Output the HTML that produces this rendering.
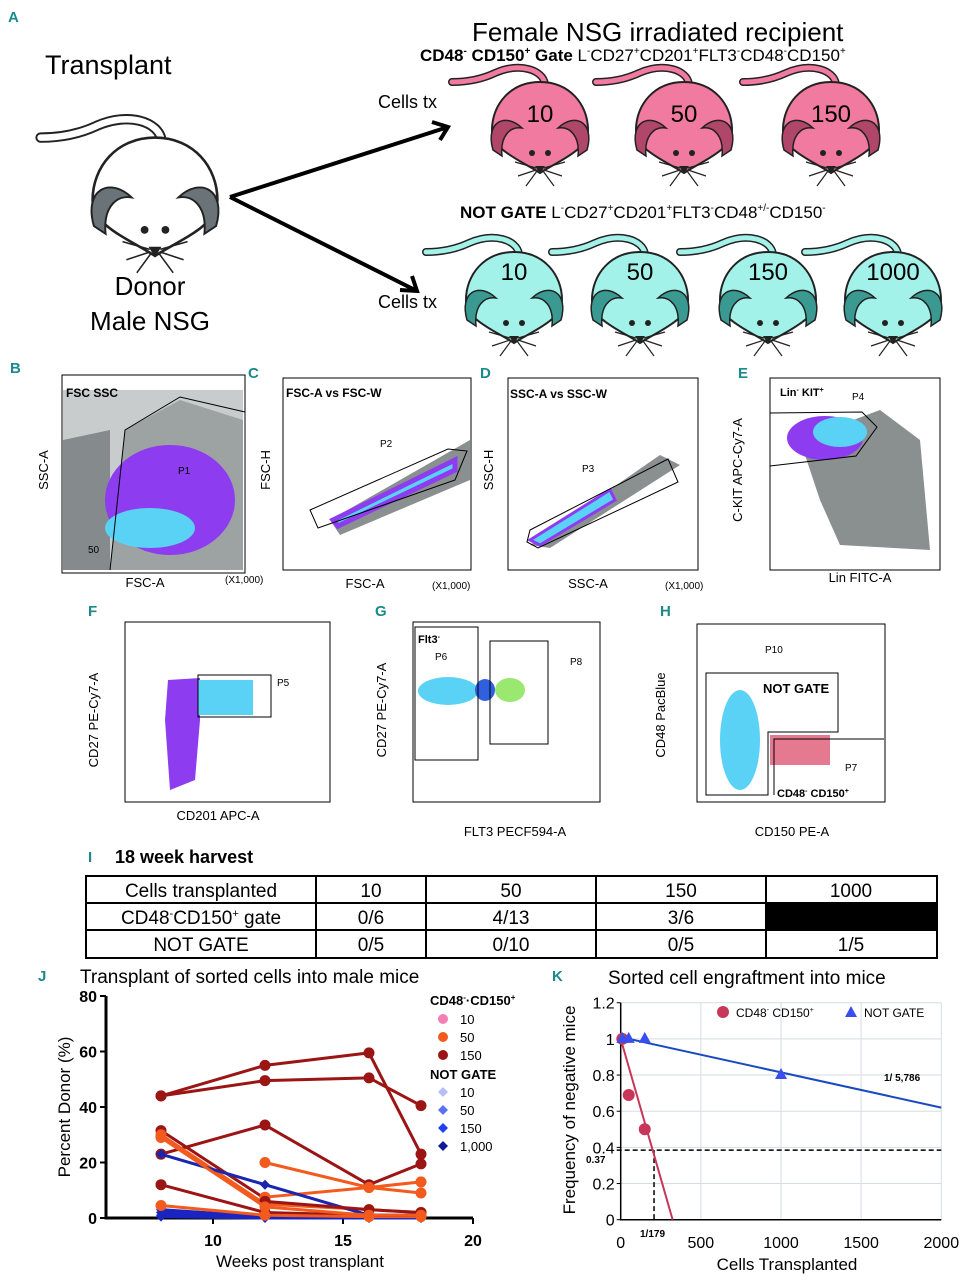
<!DOCTYPE html>
<html><head><meta charset="utf-8"><style>
body{margin:0;background:#fff;width:969px;height:1280px;overflow:hidden}
svg{display:block;font-family:"Liberation Sans",sans-serif}
.lab{fill:#1a8a8a;font-weight:bold;font-size:15px}
.tk{font-size:10px}
</style></head><body>
<svg width="969" height="1280" viewBox="0 0 969 1280">
<defs>
<g id="mouse">
<path d="M5,-16 C3,-30 -20,-38 -45,-27 C-60,-20 -75,-18 -88,-18" fill="none" stroke="#222" stroke-width="8" stroke-linecap="round"/>
<path d="M5,-16 C3,-30 -20,-38 -45,-27 C-60,-20 -75,-18 -88,-18" fill="none" stroke="var(--c)" stroke-width="5" stroke-linecap="round"/>
<path d="M0,-18 C30,-18 48,5 48,30 C48,50 20,60 0,73 C-20,60 -48,50 -48,30 C-48,5 -30,-18 0,-18Z" fill="var(--c)" stroke="#222" stroke-width="2"/>
<path d="M-47,50 C-55,22 -35,12 -18,28 C-30,26 -40,36 -38,56Z" fill="var(--d)" stroke="#222" stroke-width="1.5"/>
<path d="M47,50 C55,22 35,12 18,28 C30,26 40,36 38,56Z" fill="var(--d)" stroke="#222" stroke-width="1.5"/>
<circle cx="-8" cy="53" r="3" fill="#222"/><circle cx="8" cy="53" r="3" fill="#222"/>
<path d="M-5,66 L5,66 L0,74Z" fill="#222"/>
<path d="M-4,68 L-25,62 M-4,70 L-22,76 M-3,71 L-14,86 M4,68 L25,62 M4,70 L22,76 M3,71 L14,86" stroke="#222" stroke-width="1.2" fill="none"/>
</g>
</defs>

<text x="8" y="22" class="lab">A</text>
<text x="45" y="74" font-size="27">Transplant</text>
<text x="472" y="41" font-size="26">Female NSG irradiated recipient</text>
<text x="420" y="61" font-size="17"><tspan font-weight="bold">CD48<tspan font-size="10" dy="-7">-</tspan><tspan dy="7"> CD150</tspan><tspan font-size="10" dy="-7">+</tspan><tspan dy="7"> Gate</tspan></tspan> L<tspan font-size="10" dy="-7">-</tspan><tspan dy="7">CD27</tspan><tspan font-size="10" dy="-7">+</tspan><tspan dy="7">CD201</tspan><tspan font-size="10" dy="-7">+</tspan><tspan dy="7">FLT3</tspan><tspan font-size="10" dy="-7">-</tspan><tspan dy="7">CD48</tspan><tspan font-size="10" dy="-7">-</tspan><tspan dy="7">CD150</tspan><tspan font-size="10" dy="-7">+</tspan></text>
<text x="460" y="218" font-size="17"><tspan font-weight="bold">NOT GATE</tspan> L<tspan font-size="10" dy="-7">-</tspan><tspan dy="7">CD27</tspan><tspan font-size="10" dy="-7">+</tspan><tspan dy="7">CD201</tspan><tspan font-size="10" dy="-7">+</tspan><tspan dy="7">FLT3</tspan><tspan font-size="10" dy="-7">-</tspan><tspan dy="7">CD48</tspan><tspan font-size="10" dy="-7">+/-</tspan><tspan dy="7">CD150</tspan><tspan font-size="10" dy="-7">-</tspan></text>
<text x="378" y="108" font-size="18">Cells tx</text>
<text x="378" y="308" font-size="18">Cells tx</text>

<g transform="translate(155,161) scale(1.3)">
<use href="#mouse" style="--c:#fff;--d:#6a7478"/>
</g>
<text x="150" y="295" font-size="26" text-anchor="middle">Donor</text>
<text x="150" y="330" font-size="26" text-anchor="middle">Male NSG</text>
<path d="M230,197 L445,128 M230,197 L415,290" stroke="#000" stroke-width="4" fill="none"/>
<path d="M432,122 L448,127 L440,140 M400,290 L417,291 L412,276" stroke="#000" stroke-width="4" fill="none"/>

<g>
<use href="#mouse" x="540" y="100" style="--c:#f07aa0;--d:#b0466a"/>
<use href="#mouse" x="684" y="100" style="--c:#f07aa0;--d:#b0466a"/>
<use href="#mouse" x="831" y="100" style="--c:#f07aa0;--d:#b0466a"/>
<text x="540" y="122" font-size="24" text-anchor="middle">10</text>
<text x="684" y="122" font-size="24" text-anchor="middle">50</text>
<text x="831" y="122" font-size="24" text-anchor="middle">150</text>
</g>
<g>
<use href="#mouse" x="514" y="270" style="--c:#a3f2ea;--d:#3a9a92"/>
<use href="#mouse" x="640" y="270" style="--c:#a3f2ea;--d:#3a9a92"/>
<use href="#mouse" x="768" y="270" style="--c:#a3f2ea;--d:#3a9a92"/>
<use href="#mouse" x="893" y="270" style="--c:#a3f2ea;--d:#3a9a92"/>
<text x="514" y="280" font-size="24" text-anchor="middle">10</text>
<text x="640" y="280" font-size="24" text-anchor="middle">50</text>
<text x="768" y="280" font-size="24" text-anchor="middle">150</text>
<text x="893" y="280" font-size="24" text-anchor="middle">1000</text>
</g>

<!-- flow panels -->
<g>
<text x="10" y="373" class="lab">B</text>
<rect x="62" y="375" width="183" height="198" fill="#fff" stroke="#000"/>
<rect x="63" y="390" width="180" height="180" fill="#c8cccc"/>
<path d="M63,440 L110,430 L110,570 L63,570Z" fill="#858b8c"/>
<path d="M125,430 L180,400 L243,420 L243,570 L110,570Z" fill="#9da2a3"/>
<ellipse cx="170" cy="500" rx="65" ry="55" fill="#8d3cf0"/>
<ellipse cx="150" cy="528" rx="45" ry="20" fill="#5ad2f5"/>
<path d="M110,570 L125,430 L180,397 L245,412" fill="none" stroke="#000"/>
<text x="66" y="397" font-size="12" font-weight="bold">FSC SSC</text><text x="178" y="474" font-size="10">P1</text>
<text x="48" y="470" font-size="13" transform="rotate(-90 48 470)" text-anchor="middle">SSC-A</text>
<text x="145" y="587" font-size="13" text-anchor="middle">FSC-A</text>
<text x="225" y="583" class="tk">(X1,000)</text>
<text x="88" y="553" class="tk">50</text>
</g>
<g>
<text x="248" y="378" class="lab">C</text>
<rect x="283" y="378" width="188" height="192" fill="#fff" stroke="#000"/>
<path d="M330,520 L470,440 L470,480 L340,535Z" fill="#8a8f90"/>
<path d="M333,520 L455,460 L455,470 L338,526Z" fill="#5ad2f5" stroke="#8d3cf0" stroke-width="5"/>
<path d="M310,510 L448,449 L467,451 L455,480 L318,528Z" fill="none" stroke="#000"/>
<text x="286" y="397" font-size="12" font-weight="bold">FSC-A vs FSC-W</text><text x="380" y="447" font-size="10">P2</text>
<text x="270" y="470" font-size="13" transform="rotate(-90 270 470)" text-anchor="middle">FSC-H</text>
<text x="365" y="588" font-size="13" text-anchor="middle">FSC-A</text><text x="432" y="589" class="tk">(X1,000)</text>
</g>
<g>
<text x="480" y="378" class="lab">D</text>
<rect x="508" y="378" width="190" height="192" fill="#fff" stroke="#000"/>
<path d="M530,545 L660,455 L680,465 L550,548Z" fill="#8a8f90"/>
<path d="M530,540 L610,490 L615,500 L540,545Z" fill="#5ad2f5" stroke="#8d3cf0" stroke-width="3"/>
<path d="M527,542 L530,530 L668,459 L678,482 L538,548Z" fill="none" stroke="#000"/>
<text x="510" y="398" font-size="12" font-weight="bold">SSC-A vs SSC-W</text><text x="582" y="472" font-size="10">P3</text>
<text x="493" y="470" font-size="13" transform="rotate(-90 493 470)" text-anchor="middle">SSC-H</text>
<text x="588" y="588" font-size="13" text-anchor="middle">SSC-A</text><text x="665" y="589" class="tk">(X1,000)</text>
</g>
<g>
<text x="738" y="378" class="lab">E</text>
<rect x="770" y="378" width="170" height="192" fill="#fff" stroke="#000"/>
<path d="M800,440 L880,410 L920,440 L930,550 L840,545 L820,500Z" fill="#8a8f90"/>
<ellipse cx="825" cy="438" rx="38" ry="22" fill="#8d3cf0"/>
<ellipse cx="840" cy="432" rx="27" ry="15" fill="#5ad2f5"/>
<path d="M770,413 L862,412 L877,427 L856,456 L770,466" fill="none" stroke="#000"/>
<text x="780" y="396" font-size="11" font-weight="bold">Lin<tspan font-size="7" dy="-4">-</tspan><tspan dy="4"> KIT</tspan><tspan font-size="7" dy="-4">+</tspan></text><text x="852" y="400" font-size="10">P4</text>
<text x="742" y="470" font-size="13" transform="rotate(-90 742 470)" text-anchor="middle">C-KIT APC-Cy7-A</text>
<text x="860" y="582" font-size="13" text-anchor="middle">Lin FITC-A</text>
</g>
<g>
<text x="88" y="616" class="lab">F</text>
<rect x="125" y="622" width="205" height="180" fill="#fff" stroke="#000"/>
<path d="M168,680 L200,678 L200,720 L195,780 L170,790 L165,720Z" fill="#8d3cf0"/>
<rect x="198" y="680" width="55" height="35" fill="#5ad2f5"/>
<rect x="198" y="675" width="73" height="42" fill="none" stroke="#000"/>
<text x="277" y="686" font-size="10">P5</text>
<text x="98" y="720" font-size="13" transform="rotate(-90 98 720)" text-anchor="middle">CD27 PE-Cy7-A</text>
<text x="218" y="820" font-size="13" text-anchor="middle">CD201 APC-A</text>
</g>
<g>
<text x="375" y="616" class="lab">G</text>
<rect x="413" y="622" width="187" height="180" fill="#fff" stroke="#000"/>
<ellipse cx="448" cy="691" rx="30" ry="14" fill="#5ad2f5"/>
<ellipse cx="485" cy="690" rx="10" ry="11" fill="#3060e0"/>
<ellipse cx="510" cy="690" rx="15" ry="12" fill="#9ae870"/>
<rect x="415" y="627" width="63" height="133" fill="none" stroke="#000"/>
<rect x="490" y="641" width="58" height="103" fill="none" stroke="#000"/>
<text x="418" y="643" font-size="11" font-weight="bold">Flt3<tspan font-size="7" dy="-4">-</tspan></text>
<text x="435" y="660" font-size="10">P6</text><text x="570" y="665" font-size="10">P8</text>
<text x="386" y="710" font-size="13" transform="rotate(-90 386 710)" text-anchor="middle">CD27 PE-Cy7-A</text>
<text x="515" y="836" font-size="13" text-anchor="middle">FLT3 PECF594-A</text>
</g>
<g>
<text x="660" y="616" class="lab">H</text>
<rect x="697" y="624" width="188" height="178" fill="#fff" stroke="#000"/>
<ellipse cx="740" cy="740" rx="20" ry="50" fill="#5ad2f5"/>
<rect x="770" y="735" width="60" height="30" fill="#d84060" opacity="0.7"/>
<path d="M706,673 L838,673 L838,732 L768,732 L768,795 L706,795Z" fill="none" stroke="#000"/>
<path d="M774,795 L774,739 L884,739" fill="none" stroke="#000"/>
<text x="765" y="653" font-size="10">P10</text><text x="845" y="771" font-size="10">P7</text>
<text x="763" y="693" font-size="13" font-weight="bold">NOT GATE</text>
<text x="777" y="797" font-size="11" font-weight="bold">CD48<tspan font-size="7" dy="-4">-</tspan><tspan dy="4"> CD150</tspan><tspan font-size="7" dy="-4">+</tspan></text>
<text x="665" y="715" font-size="13" transform="rotate(-90 665 715)" text-anchor="middle">CD48 PacBlue</text>
<text x="792" y="836" font-size="13" text-anchor="middle">CD150 PE-A</text>
</g>

<!-- table -->
<g>
<text x="88" y="862" class="lab">I</text>
<text x="115" y="863" font-size="18" font-weight="bold">18 week harvest</text>
<rect x="86" y="876" width="851" height="82" fill="#fff" stroke="#000" stroke-width="2"/>
<rect x="766" y="903" width="171" height="27" fill="#000"/>
<path d="M86,903 H937 M86,930 H937 M316,876 V958 M426,876 V958 M596,876 V958 M766,876 V958" stroke="#000" stroke-width="2"/>
<g font-size="19" text-anchor="middle">
<text x="201" y="897">Cells transplanted</text><text x="371" y="897">10</text><text x="511" y="897">50</text><text x="681" y="897">150</text><text x="851" y="897">1000</text>
<text x="201" y="924">CD48<tspan font-size="11" dy="-7">-</tspan><tspan dy="7">CD150</tspan><tspan font-size="11" dy="-7">+</tspan><tspan dy="7"> gate</tspan></text><text x="371" y="924">0/6</text><text x="511" y="924">4/13</text><text x="681" y="924">3/6</text>
<text x="201" y="951">NOT GATE</text><text x="371" y="951">0/5</text><text x="511" y="951">0/10</text><text x="681" y="951">0/5</text><text x="851" y="951">1/5</text>
</g>
</g>

<!-- J -->
<g id="pj">
<text x="38" y="981" class="lab">J</text>
<text x="80" y="983" font-size="19">Transplant of sorted cells into male mice</text>
<text x="70" y="1107" font-size="17" transform="rotate(-90 70 1107)" text-anchor="middle">Percent Donor (%)</text>
<text x="300" y="1267" font-size="17" text-anchor="middle">Weeks post transplant</text>
<g font-size="13" font-weight="bold">
<text x="430" y="1005">CD48<tspan font-size="8" dy="-5">-</tspan><tspan dy="5">·CD150</tspan><tspan font-size="8" dy="-5">+</tspan></text>
<circle cx="443" cy="1019" r="5" fill="#f37fb5"/><text x="460" y="1024" font-weight="normal">10</text>
<circle cx="443" cy="1037" r="5" fill="#f25a1e"/><text x="460" y="1042" font-weight="normal">50</text>
<circle cx="443" cy="1055" r="5" fill="#9b1515"/><text x="460" y="1060" font-weight="normal">150</text>
<text x="430" y="1079">NOT GATE</text>
<path d="M443,1087 l5,5 -5,5 -5,-5z" fill="#b6bef5"/><text x="460" y="1097" font-weight="normal">10</text>
<path d="M443,1105 l5,5 -5,5 -5,-5z" fill="#5a72f0"/><text x="460" y="1115" font-weight="normal">50</text>
<path d="M443,1123 l5,5 -5,5 -5,-5z" fill="#2040f0"/><text x="460" y="1133" font-weight="normal">150</text>
<path d="M443,1141 l5,5 -5,5 -5,-5z" fill="#101a9a"/><text x="460" y="1151" font-weight="normal">1,000</text>
</g>
</g>

<!-- K -->
<g id="pk">
<text x="552" y="981" class="lab">K</text>
<text x="608" y="984" font-size="19">Sorted cell engraftment into mice</text>
<text x="575" y="1110" font-size="17" transform="rotate(-90 575 1110)" text-anchor="middle">Frequency of negative mice</text>
<text x="787" y="1270" font-size="17" text-anchor="middle">Cells Transplanted</text>
<circle cx="723" cy="1012" r="6" fill="#c8375a"/><text x="736" y="1017" font-size="12">CD48<tspan font-size="7" dy="-5">-</tspan><tspan dy="5"> CD150</tspan><tspan font-size="7" dy="-5">+</tspan></text>
<path d="M851,1006 l6,11 h-12z" fill="#3a4ef0"/><text x="864" y="1017" font-size="12">NOT GATE</text>
</g>

<script>
var ns='http://www.w3.org/2000/svg';
function mk(p,t,a){var e=document.createElementNS(ns,t);for(var k in a)e.setAttribute(k,a[k]);p.appendChild(e);return e;}
// ---- Panel J data ----
var jWeeks=[8,12,16,18];
var jXTicks=[10,15,20];
var jYTicks=[0,20,40,60,80];
var jSeriesGroup=['150','150','150','150','150','50','50','50','50','1000','150x','50x'];
var jSeries=[
 [44,55,59.5,23],
 [44,49.5,50.5,40.5],
 [23,33.5,12,19.5],
 [31.5,7,null,null],
 [12,2,1,1],
 [30,5,3,2],
 [null,20,11,9],
 [null,7.5,11,13],
 [4.5,1,0.5,0.5],
 [23,12,1,1],
 [null,6,3,2],
 [29,4,1,1]
];
var jSmall=[[3,0.5,0.3,0.3],[2,0.3,0.2,0.2],[1,0.2,0.1,0.1],[0.5,0,0,0]];
var jColors={'150':'#9b1515','50':'#f25a1e','1000':'#1a25b0','150x':'#9b1515','50x':'#f25a1e'};
var jx=function(w){return 213+(w-10)*26;};
var jy=function(v){return 1218-v*2.775;};
var pj=document.getElementById('pj');
var jAx=mk(pj,'path',{d:'M106,996 V1218 H473',stroke:'#000','stroke-width':3,fill:'none'});


jYTicks.forEach(function(t){
 mk(pj,'line',{x1:100,x2:106,y1:jy(t),y2:jy(t),stroke:'#000','stroke-width':2});
 var e=mk(pj,'text',{x:97,y:jy(t)+6,'font-size':16,'font-weight':'bold','text-anchor':'end'});e.textContent=t;
 
 
});
jXTicks.forEach(function(t){
 mk(pj,'line',{x1:jx(t),x2:jx(t),y1:1218,y2:1224,stroke:'#000','stroke-width':2});
 var e=mk(pj,'text',{x:jx(t),y:1246,'font-size':16,'font-weight':'bold','text-anchor':'middle'});e.textContent=t;
 
 
});
jSmall.forEach(function(s){
 var pts=s.map(function(v,i){return jx(jWeeks[i])+','+jy(v);}).join(' ');
 var l=mk(pj,'polyline',{points:pts,stroke:'#1a25c0','stroke-width':3,fill:'none'});
 
 
 s.forEach(function(v,i){var d=mk(pj,'path',{d:'M'+jx(jWeeks[i])+','+(jy(v)-5)+'l5,5 -5,5 -5,-5z',fill:'#1a25c0'});
 
 });
});
jSeries.forEach(function(s,k){
 var c=jColors[jSeriesGroup[k]];var pts=[];
 s.forEach(function(v,i){if(v!==null)pts.push(jx(jWeeks[i])+','+jy(v));});
 var l=mk(pj,'polyline',{points:pts.join(' '),stroke:c,'stroke-width':3,fill:'none'});
 
 
 s.forEach(function(v,i){if(v===null)return;
  var p;
  if(jSeriesGroup[k]==='1000'){p=mk(pj,'path',{d:'M'+jx(jWeeks[i])+','+(jy(v)-5)+'l5,5 -5,5 -5,-5z',fill:c});}
  else p=mk(pj,'circle',{cx:jx(jWeeks[i]),cy:jy(v),r:5.5,fill:c});
  
  
 });
});
// ---- Panel K data ----
var kXTicks=[0,500,1000,1500,2000];
var kYTicks=[0,0.2,0.4,0.6,0.8,1,1.2];
var kRedX=[10,50,150];
var kRedY=[1,0.69,0.5];
var kBlueX=[10,50,150,1000];
var kBlueY=[1,1,1,0.8];
var kRedFit=[[0,1],[324,0]];
var kBlueFit=[[0,1.01],[2000,0.62]];
var kCut=[0.385,208];
var kx=function(c){return 620.7+c*0.1603;};
var ky=function(v){return 1219.7-v*180.8;};
var pk=document.getElementById('pk');
kXTicks.forEach(function(t){
 mk(pk,'line',{x1:kx(t),x2:kx(t),y1:ky(0),y2:ky(1.2),stroke:'#d5dde2'});
 var e=mk(pk,'text',{x:kx(t),y:1248,'font-size':16,'text-anchor':'middle'});e.textContent=t;
 
 
});
kYTicks.forEach(function(t){
 mk(pk,'line',{x1:kx(0),x2:kx(2000),y1:ky(t),y2:ky(t),stroke:'#d5dde2'});
 mk(pk,'line',{x1:kx(0)-4,x2:kx(0),y1:ky(t),y2:ky(t),stroke:'#000'});
 var e=mk(pk,'text',{x:kx(0)-6,y:ky(t)+6,'font-size':16,'text-anchor':'end'});e.textContent=(t===0||t===1)?t:t.toFixed(1);
 
 
});
var ka=mk(pk,'path',{d:'M'+kx(0)+','+ky(1.2)+' V'+ky(0)+' H'+kx(2000),stroke:'#000','stroke-width':1.5,fill:'none'});


var hd=mk(pk,'line',{x1:kx(0)-4,x2:kx(2000),y1:ky(kCut[0]),y2:ky(kCut[0]),stroke:'#000','stroke-width':1.5,'stroke-dasharray':'5,3'});


var vd=mk(pk,'line',{x1:kx(kCut[1]),x2:kx(kCut[1]),y1:ky(kCut[0]),y2:ky(0),stroke:'#000','stroke-width':1.5,'stroke-dasharray':'5,3'});


var rl=mk(pk,'line',{x1:kx(kRedFit[0][0]),y1:ky(kRedFit[0][1]),x2:kx(kRedFit[1][0]),y2:ky(kRedFit[1][1]),stroke:'#c8375a','stroke-width':2});


var bl=mk(pk,'line',{x1:kx(kBlueFit[0][0]),y1:ky(kBlueFit[0][1]),x2:kx(kBlueFit[1][0]),y2:ky(kBlueFit[1][1]),stroke:'#1a4ac0','stroke-width':2});


kRedX.forEach(function(c,i){var p=mk(pk,'circle',{cx:kx(c),cy:ky(kRedY[i]),r:6,fill:'#c8375a'});
 
 });
kBlueX.forEach(function(c,i){var X=kx(c),Y=ky(kBlueY[i]);var p=mk(pk,'path',{d:'M'+X+','+(Y-7)+'l6,11 h-12z',fill:'#3a4ef0'});
 
 });
var t1=mk(pk,'text',{x:586,y:1163,'font-size':10,'font-weight':'bold'});t1.textContent='0.37';


var t2=mk(pk,'text',{x:640,y:1237,'font-size':10,'font-weight':'bold'});t2.textContent='1/179';


var t3=mk(pk,'text',{x:884,y:1081,'font-size':10,'font-weight':'bold'});t3.textContent='1/ 5,786';


</script>
</svg>
</body></html>
